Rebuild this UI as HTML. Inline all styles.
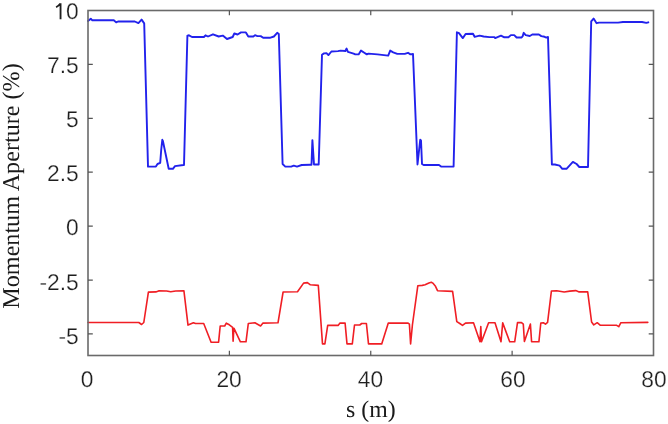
<!DOCTYPE html>
<html><head><meta charset="utf-8"><style>
html,body{margin:0;padding:0;background:#fff;}
body{width:668px;height:424px;overflow:hidden;}
svg{display:block;filter:blur(0.3px);}
text{text-rendering:geometricPrecision;}
.tk{font-family:"Liberation Sans",sans-serif;font-size:22.8px;fill:#1e1e1e;stroke:#fff;stroke-width:0.25px;}
.lb{font-family:"Liberation Serif",serif;font-size:24px;fill:#1a1a1a;}
</style></head><body>
<svg width="668" height="424" viewBox="0 0 668 424">
<rect width="668" height="424" fill="#fff"/>
<polyline points="88,21 90.8,18.7 92.3,20.3 113.8,20.2 116.2,22.4 118,21.5 134.8,21.5 138.4,23.1 141.6,19.6 144.2,23.4 148,166.6 155.9,166.6 157.5,164 160.2,162.9 161.2,150 162.3,139.8 162.9,141 168.7,168.8 172.9,168.8 175,166.1 183.5,165 184,165 187.4,35.6 189,35.3 192,37 203.9,37 205.5,35.3 208,36.5 213,34.3 218.7,36.5 222.8,35.6 227,39 232.7,37 234.3,33.5 237.6,34.5 241,32.4 245.9,32.4 248.3,36.5 253.3,36.5 255,35.2 257.4,36.1 260.7,36.1 263.2,37.8 269.8,37.8 273.9,36.5 277.2,32.8 278.8,34 282.6,164 285.3,166.6 291.1,166.6 293.8,165.6 297,166.6 301.7,165 310.2,164.8 311.5,164.8 312.4,140.1 314,164.5 317.7,164.5 318.7,164.5 322,54.8 324,53.4 326.5,53.1 328.4,55.1 331.4,51.5 338,51.1 340.5,50.6 345.4,51 346.6,48.5 347.9,51.8 353.6,53.6 355.3,54.4 358.6,54.4 361,50.6 364.3,52.8 366.8,54.4 368.5,53.6 377.5,54.4 388.2,55.6 390.2,50.6 393.2,52.3 397.3,53.9 404.7,53.9 408,52.8 410.4,54.4 413,54 417.5,164.5 420.2,139.8 421,140.5 422,164 423.6,165 439,165 441.1,166.6 452.8,166.6 453.6,166.6 456.9,32.3 459,33.2 462.8,38.1 465.6,34 473,33.7 474.6,36.8 479.6,35.6 483.7,36.5 489.5,37.1 494.4,37.1 495.2,38.1 501,35.6 504.3,37.3 508.4,37.3 510.9,35.1 514.2,35.1 516.6,37.5 521.6,37.5 522.7,36.1 523.7,32.8 525.7,35.1 529.8,36 532.3,34.5 538.9,34.5 541.3,36.1 544.6,36.8 546.3,37.6 548,37 551.9,164.5 554.9,164.5 559.6,165.6 562.3,168.8 566.5,168.8 572.9,161.9 576.6,164 579.3,167 587.3,167 588,167 591.2,21.4 593.6,18.6 596.6,23.2 599,22.6 618.1,22.6 622.9,22 642,22 646.3,22.9 648.3,22.3" fill="none" stroke="rgb(34,34,236)" stroke-width="1.9" stroke-linejoin="round" stroke-linecap="round"/>
<polyline points="88,322.5 138.8,322.5 141.6,324.5 143.8,322.5 148.4,292.1 155.8,291.9 158.6,290.9 166.6,291 170.7,291.8 175.7,291 183.9,290.7 188,325.1 193.4,322.7 195.5,323.5 203.7,323.5 211.1,342.2 218.6,342.2 220.2,326 224.7,326 226.3,323.2 229.3,324.8 232.6,327.3 233.1,341.3 233.9,328.2 240.4,341.8 246,341.8 248.3,323.5 254.9,322.8 260.6,326 263,323.1 278,322.8 283.1,292 297.5,291.8 303.6,283.1 307.4,282.6 310.4,284.8 318.3,285.4 322.5,343.9 324.9,343.9 327.7,325.4 338.1,325.4 340,323.1 345.1,323.1 347,343.9 352.3,343.9 354.5,325 359.8,325 361.7,323.5 366.4,323.5 368.5,343.9 381.7,343.9 388.3,323.1 408.1,323.1 409.4,324.1 410.6,343.9 412.4,325 417.8,285.8 422.3,285.4 425.1,284.8 428.9,283.1 431.3,282.2 432.8,283.1 435.5,286.3 437.5,290.7 452.6,291.4 456.8,321.6 459.8,323.5 462.5,325.4 465.5,323.1 473.5,322.8 480,341.8 480.8,326.5 481.5,341.8 488.6,322.8 495,322.8 501,341.8 502.7,322.9 509.7,341.8 514.7,341.8 517.5,322.6 521.5,322.6 523.3,324.1 524.4,341.5 530.4,324.1 531.6,341.8 538.9,341.8 540.8,323 543.4,322.8 545.5,324.1 547.6,322.3 551.4,291 556.6,290.7 564.2,292 569.8,291.1 575.7,290.6 579.2,291.9 587.7,291.9 591.6,322 593.8,324.9 597.2,322.7 600.4,325.3 616.7,325.3 618.8,326.7 620.9,322.7 647.8,322.4" fill="none" stroke="rgb(240,30,36)" stroke-width="1.6" stroke-linejoin="round" stroke-linecap="round"/>
<rect x="88.0" y="10.5" width="565.5" height="345.0" fill="none" stroke="#6a6a6a" stroke-width="1.6"/>
<path d="M229.38 355.5V350.70M229.38 10.5V15.30M370.75 355.5V350.70M370.75 10.5V15.30M512.12 355.5V350.70M512.12 10.5V15.30M88.0 333.94H92.80M653.5 333.94H648.70M88.0 280.03H92.80M653.5 280.03H648.70M88.0 226.12H92.80M653.5 226.12H648.70M88.0 172.22H92.80M653.5 172.22H648.70M88.0 118.31H92.80M653.5 118.31H648.70M88.0 64.41H92.80M653.5 64.41H648.70" stroke="#555" stroke-width="1.2" fill="none"/>
<path d="M60.55 19.2V3.2M60.4 3.6C59.2 5.1 57.8 6.3 56.1 7.2" stroke="#1e1e1e" stroke-width="1.85" fill="none"/>
<g class="tk">
<text transform="translate(78.8,19.45) scale(1,1.0)" text-anchor="end">0</text>
<text transform="translate(78.8,72.91) scale(1,1.0)" text-anchor="end">7.5</text>
<text transform="translate(78.8,126.86) scale(1,1.0)" text-anchor="end">5</text>
<text transform="translate(78.8,180.82) scale(1,1.0)" text-anchor="end">2.5</text>
<text transform="translate(78.8,234.57) scale(1,1.0)" text-anchor="end">0</text>
<text transform="translate(78.8,290.03) scale(1,1.0)" text-anchor="end">-2.5</text>
<text transform="translate(78.8,344.14) scale(1,1.0)" text-anchor="end">-5</text>
<text transform="translate(87.05,387.3) scale(1,1.0)" text-anchor="middle">0</text>
<text transform="translate(229.07,387.3) scale(1,1.0)" text-anchor="middle">20</text>
<text transform="translate(370.40,387.3) scale(1,1.0)" text-anchor="middle">40</text>
<text transform="translate(512.92,387.3) scale(1,1.0)" text-anchor="middle">60</text>
<text transform="translate(653.90,387.3) scale(1,1.0)" text-anchor="middle">80</text>
</g>
<g class="lb">
<text x="370.9" y="416.8" text-anchor="middle" style="font-size:23.8px">s (m)</text>
<text transform="translate(19.4,186.0) rotate(-90)" text-anchor="middle" style="font-size:24.15px">Momentum Aperture (%)</text>
</g>
</svg>
</body></html>
